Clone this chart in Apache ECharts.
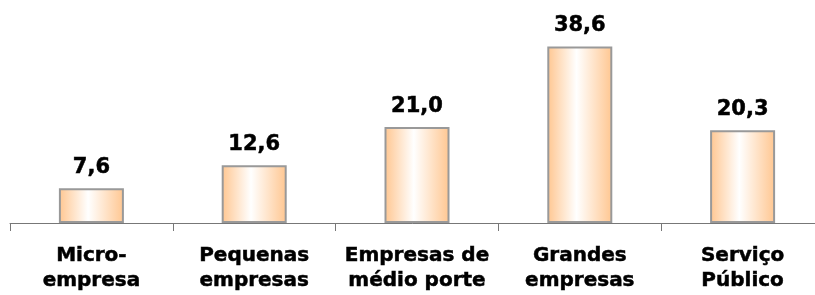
<!DOCTYPE html>
<html>
<head>
<meta charset="utf-8">
<script src="https://cdn.jsdelivr.net/npm/echarts@6/dist/echarts.min.js"></script>
<style>
  html, body { margin: 0; padding: 0; background: #fff; }
  #chart { width: 815px; height: 295px; }
</style>
</head>
<body>
<div id="chart"></div>
<script>
const categories = ['Micro-\nempresa', 'Pequenas\nempresas', 'Empresas de\nmédio porte', 'Grandes\nempresas', 'Serviço\nPúblico']
const values = [7.6, 12.6, 21.0, 38.6, 20.3]

const chart = echarts.init(document.getElementById('chart'))

// horizontal orange-white-orange fill like the original
const barFill = new echarts.graphic.LinearGradient(0, 0, 1, 0, [
  { offset: 0, color: '#ffc690' },
  { offset: 0.45, color: '#ffffff' },
  { offset: 1, color: '#ffc690' }
])

chart.setOption({
  animation: false,
  textStyle: { fontFamily: 'DejaVu Sans' },
  grid: { left: 10, width: 814, top: 40, bottom: 72, outerBoundsMode: 'none', containLabel: false },
  xAxis: {
    type: 'category',
    data: categories,
    axisLine: { lineStyle: { color: '#777', width: 1 } },
    axisTick: { show: true, length: 8, lineStyle: { color: '#777' } },
    axisLabel: {
      interval: 0,
      margin: 20,
      color: '#000',
      fontWeight: 'bold',
      fontSize: 20,
      lineHeight: 25,
      fontFamily: 'DejaVu Sans',
      textBorderColor: '#000',
      textBorderWidth: 0.5
    }
  },
  yAxis: {
    type: 'value',
    min: 0,
    max: 40,
    show: false
  },
  series: [{
    type: 'bar',
    data: values,
    barWidth: 65,
    itemStyle: {
      color: barFill,
      borderColor: '#999',
      borderWidth: 2
    },
    label: {
      show: true,
      position: 'top',
      distance: 10,
      color: '#000',
      fontWeight: 'bold',
      fontSize: 21,
      fontFamily: 'DejaVu Sans',
      textBorderColor: '#000',
      textBorderWidth: 0.5,
      formatter: p => p.value.toFixed(1).replace('.', ',')
    }
  }]
})
</script>
</body>
</html>
